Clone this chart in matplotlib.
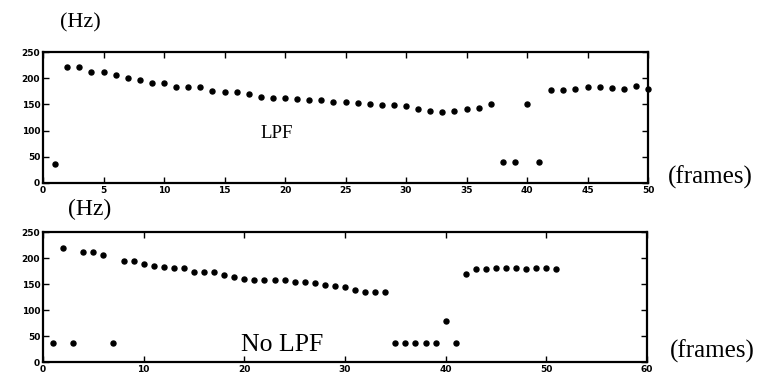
import matplotlib
matplotlib.use("Agg")
import matplotlib.pyplot as plt

# LPF (top)
lpf_x = list(range(1, 51))
lpf_y = [36, 221, 221, 212, 212, 207, 200, 197, 190, 190,
         183, 183, 183, 175, 174, 174, 169, 165, 163, 163,
         161, 159, 159, 155, 155, 153, 151, 149, 149, 146,
         141, 138, 136, 138, 142, 144, 150, 40, 40, 150,
         40, 177, 177, 180, 183, 183, 182, 180, 185, 180]

# No LPF (bottom)
nolpf_x = list(range(1, 52))
nolpf_y = [36, 220, 36, 212, 212, 206, 36, 195, 195, 189,
           185, 182, 180, 180, 173, 173, 173, 167, 163, 160,
           158, 158, 157, 157, 153, 154, 151, 148, 146, 144,
           139, 134, 134, 134, 36, 36, 36, 36, 36, 79,
           36, 170, 178, 178, 180, 180, 180, 178, 180, 180,
           178]

top_xticks = list(range(0, 51, 5))
bot_xticks = list(range(0, 61, 10))
yticks = [0, 50, 100, 150, 200, 250]

W, H = 758, 375
fig = plt.figure(figsize=(W / 100, H / 100), dpi=100)
fig.patch.set_facecolor("white")

serif = ["Liberation Serif", "DejaVu Serif"]


def make_ax(left, top, right, bottom):
    return fig.add_axes([left / W, 1 - bottom / H, (right - left) / W, (bottom - top) / H])


def style(ax, xmax, xticks):
    ax.set_xlim(0, xmax)
    ax.set_ylim(0, 250)
    ax.set_xticks(xticks)
    ax.set_yticks(yticks)
    ax.tick_params(direction="in", top=True, right=True, length=4, width=1,
                   labelsize=6.5, pad=2)
    for lab in ax.get_xticklabels() + ax.get_yticklabels():
        lab.set_fontweight("bold")
    for s in ax.spines.values():
        s.set_linewidth(1.6)


ax1 = make_ax(43, 52, 648, 183)
ax1.plot(lpf_x, lpf_y, "o", color="black", markersize=3.6, clip_on=False)
style(ax1, 50, top_xticks)

ax2 = make_ax(43, 232, 647, 362)
ax2.plot(nolpf_x, nolpf_y, "o", color="black", markersize=3.6, clip_on=False)
style(ax2, 60, bot_xticks)


def ftext(x, y, s, size):
    fig.text(x / W, 1 - y / H, s, family=serif, fontsize=size, ha="center", va="center")


ftext(277, 134, "LPF", 13.5)
ftext(282, 345, "No LPF", 18.5)
ftext(80, 23, "(Hz)", 16)
ftext(90, 209, "(Hz)", 17)
ftext(710, 177, "(frames)", 18)
ftext(712, 351, "(frames)", 18)

fig.savefig("out.png", dpi=100, facecolor="white")
